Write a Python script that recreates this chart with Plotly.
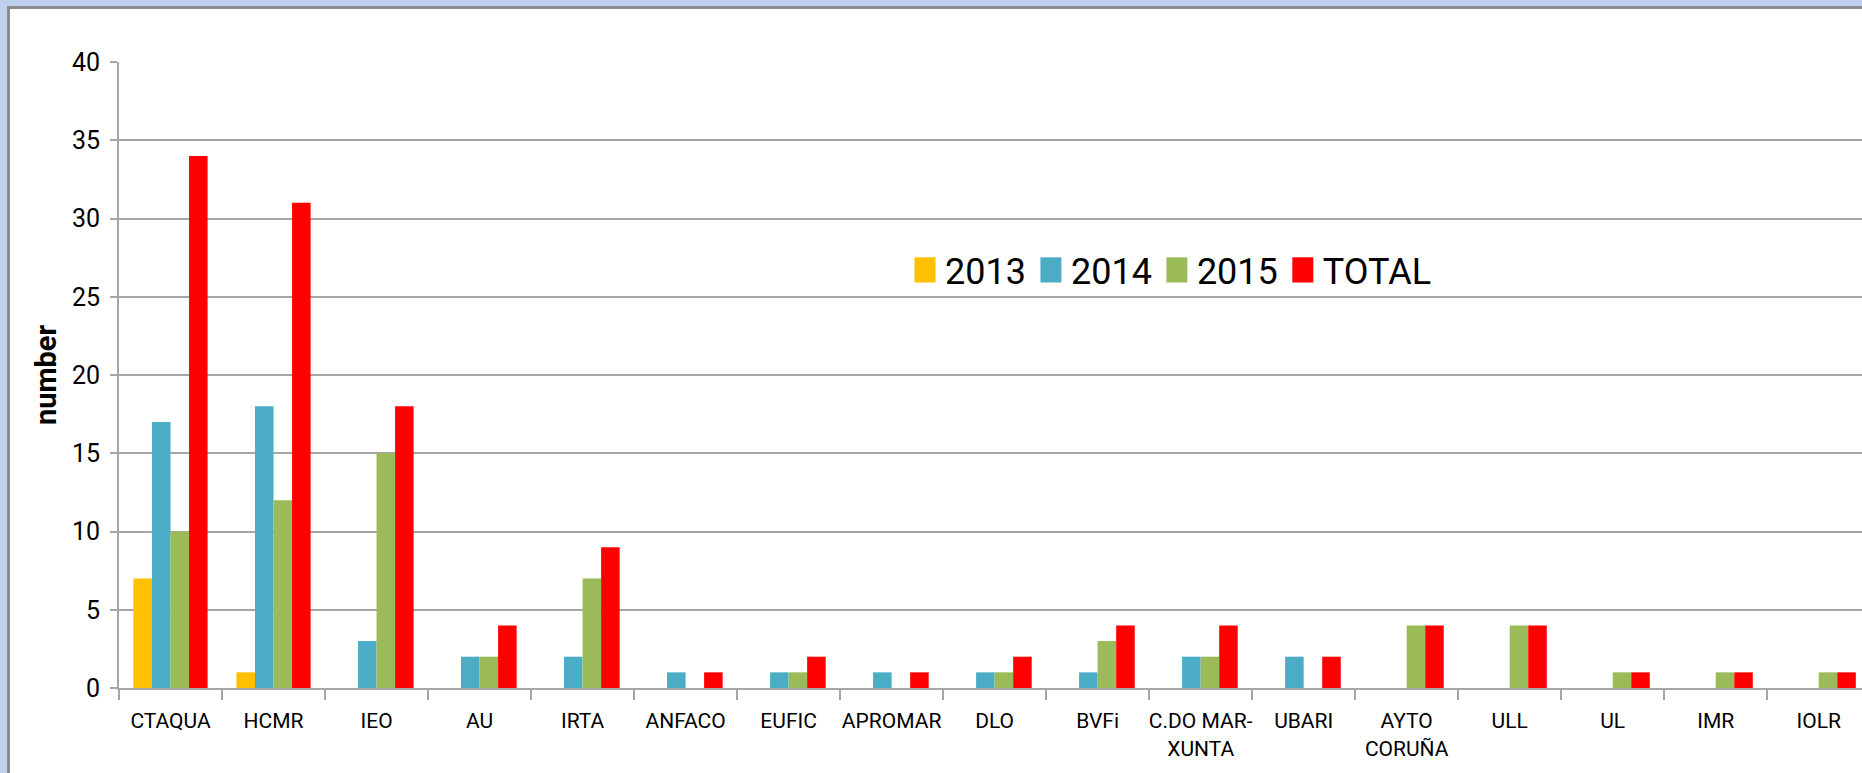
import plotly.graph_objects as go

categories = ["CTAQUA", "HCMR", "IEO", "AU", "IRTA", "ANFACO", "EUFIC", "APROMAR", "DLO",
              "BVFi", "C.DO MAR-<br>XUNTA", "UBARI", "AYTO<br>CORUÑA", "ULL", "UL", "IMR", "IOLR"]
v2013 = [7, 1, None, None, None, None, None, None, None, None, None, None, None, None, None, None, None]
v2014 = [17, 18, 3, 2, 2, 1, 1, 1, 1, 1, 2, 2, None, None, None, None, None]
v2015 = [10, 12, 15, 2, 7, None, 1, None, 1, 3, 2, None, 4, 4, 1, 1, 1]
vtotal = [34, 31, 18, 4, 9, 1, 2, 1, 2, 4, 4, 2, 4, 4, 1, 1, 1]
series_names = ["2013", "2014", "2015", "TOTAL"]
series_colors = ["#FFC000", "#4BACC6", "#9BBB59", "#FF0000"]
y_ticks = [0, 5, 10, 15, 20, 25, 30, 35, 40]

FONT = "Liberation Sans Narrow, Arial Narrow, Roboto, sans-serif"

W, H = 1862, 773
L, T, B, R = 119, 62, 85, 0
pw, ph = W - L - R, H - T - B

def px(x):
    return (x - L) / pw

def py(y):
    return (H - B - y) / ph

fig = go.Figure()
for name, vals, col in zip(series_names, [v2013, v2014, v2015, vtotal], series_colors):
    fig.add_bar(x=categories, y=vals, name=name, marker_color=col,
                marker_line_width=0)

grid = "#A6A6A6"
fig.update_layout(
    width=W, height=H,
    margin=dict(l=L, r=R, t=T, b=B, pad=0),
    paper_bgcolor="#BFD1EE",
    plot_bgcolor="rgba(0,0,0,0)",
    barmode="group", bargap=0.28, bargroupgap=0,
    font=dict(family=FONT, color="#000000"),
    showlegend=True,
    legend=dict(orientation="h", x=px(905), y=py(270), xanchor="left", yanchor="middle",
                font=dict(size=36, family=FONT), bgcolor="rgba(0,0,0,0)",
                itemwidth=30, tracegroupgap=0),
    xaxis=dict(range=[-0.5, 16.42], showgrid=False, showline=True, linecolor=grid, linewidth=2,
               ticks="outside", tickson="boundaries", ticklen=10, tickcolor=grid, tickwidth=2,
               tickangle=0,
               tickfont=dict(size=21, family=FONT), ticklabelstandoff=13, fixedrange=True),
    yaxis=dict(range=[0, 40], tickvals=y_ticks, showgrid=True, gridcolor=grid, gridwidth=2,
               showline=True, linecolor=grid, linewidth=2, zeroline=False,
               ticks="outside", ticklen=7, tickcolor=grid, tickwidth=2,
               tickfont=dict(size=25, family=FONT), ticklabelstandoff=5,
               title=dict(text="<b>number</b>", font=dict(size=29, family=FONT), standoff=7)),
    shapes=[
        dict(type="rect", xref="paper", yref="paper", layer="below",
             x0=px(7), x1=px(W + 20), y0=py(H + 20), y1=py(6),
             fillcolor="#8C8C8C", line_width=0),
        dict(type="rect", xref="paper", yref="paper", layer="below",
             x0=px(10), x1=px(W + 20), y0=py(H + 20), y1=py(9),
             fillcolor="#FFFFFF", line_width=0),
    ],
)

post = (
    "document.body.style.margin='0';document.body.style.overflow='hidden';"
    "document.querySelectorAll('.legendpoints path').forEach(function(p){"
    "var t=p.getAttribute('transform')||'';"
    "p.setAttribute('transform',t+' scale(1.75,2.1)');});"
)
fig.write_html("out.html", config={"displayModeBar": False}, post_script=post)
